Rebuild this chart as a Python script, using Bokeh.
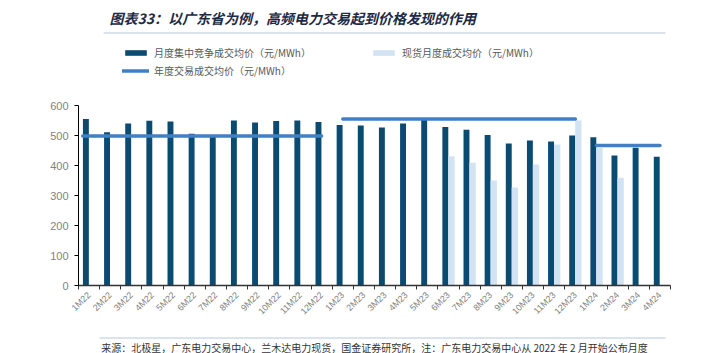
import math
from bokeh.plotting import figure
from bokeh.layouts import column
from bokeh.models import (Legend, LegendItem, FixedTicker, Range1d, ColumnDataSource)
from bokeh.core.properties import value
from bokeh.embed import file_html
from bokeh.resources import INLINE

# ---------------- data ----------------
months = ["1M22", "2M22", "3M22", "4M22", "5M22", "6M22", "7M22", "8M22", "9M22",
          "10M22", "11M22", "12M22", "1M23", "2M23", "3M23", "4M23", "5M23", "6M23",
          "7M23", "8M23", "9M23", "10M23", "11M23", "12M23", "1M24", "2M24", "3M24", "4M24"]
monthly_price = [555, 511, 540, 549, 547, 506, 500, 550, 543, 548, 550, 545,
                 535, 533, 527, 540, 553, 528, 519, 502, 473, 483, 480, 500,
                 494, 433, 459, 429]
spot_price = [None] * 17 + [431, 409, 350, 327, 403, 470, 550, 458, 359, None, None]
annual_years = ["2022", "2023", "2024"]
annual_price = [498, 555, 467]
annual_first = ["1M22", "1M23", "1M24"]
annual_last = ["12M22", "12M23", "4M24"]
y_ticks = [0, 100, 200, 300, 400, 500, 600]

title_text = "图表33：以广东省为例，高频电力交易起到价格发现的作用"
lab_month = "月度集中竞争成交均价（元/MWh）"
lab_spot = "现货月度成交均价（元/MWh）"
lab_year = "年度交易成交均价（元/MWh）"
source_text = "来源：北极星，广东电力交易中心，兰木达电力现货，国金证券研究所，注：广东电力交易中心从 2022 年 2 月开始公布月度"

# ---------------- styles ----------------
DARK = "#0b4a71"
LIGHT = "#d2e3f3"
LINE = "#4180c2"
GRAY = "#7f7f7f"
RULE = "#b7c8da"
CJK = "Noto Sans CJK SC"
W = 706


def blank_fig(h):
    f = figure(width=W, height=h, x_range=Range1d(0, W), y_range=Range1d(h, 0),
               output_backend="svg", toolbar_location=None,
               x_axis_location=None, y_axis_location=None,
               min_border=0, min_border_left=0, min_border_right=0,
               min_border_top=0, min_border_bottom=0)
    f.xgrid.visible = False
    f.ygrid.visible = False
    f.outline_line_color = None
    return f


# ---------------- title strip ----------------
TH = 36
t = blank_fig(TH)
t.text(x=[37], y=[17], text=[title_text], text_font=value(CJK),
       text_font_style="bold italic", text_font_size="14px",
       text_color="#1c2a45", text_baseline="middle", text_align="left")
t.segment(x0=[30], y0=[32.5], x1=[700], y1=[32.5], line_color=RULE, line_width=1)

# ---------------- main chart ----------------
MH = 298
FRAME_BOTTOM = 249          # inside main figure
frame_h = FRAME_BOTTOM - 0
y_top = 600 * frame_h / 180.0

idx = list(range(len(months)))
dark_src = ColumnDataSource(dict(x=[i - 0.15 for i in idx], top=monthly_price))
sp_x = [i + 0.14 for i, v in zip(idx, spot_price) if v is not None]
sp_v = [v for v in spot_price if v is not None]
spot_src = ColumnDataSource(dict(x=sp_x, top=sp_v))

xs, ys = [], []
for k, (a, b, v) in enumerate(zip(annual_first, annual_last, annual_price)):
    x0 = months.index(a) - (0.3 if k == 0 else 0.0)
    x1 = months.index(b)
    xs.append([x0, x1])
    ys.append([v, v])
line_src = ColumnDataSource(dict(xs=xs, ys=ys))

p = figure(width=W, height=MH, x_range=Range1d(-0.5, len(months) - 0.5),
           y_range=Range1d(0, y_top), output_backend="svg", toolbar_location=None,
           min_border_left=78, min_border_right=36, min_border_top=0,
           min_border_bottom=MH - FRAME_BOTTOM)
p.xgrid.visible = False
p.ygrid.visible = False
p.outline_line_color = None

r_dark = p.vbar(x="x", top="top", width=0.28, source=dark_src,
                fill_color=DARK, line_color=None)
r_spot = p.vbar(x="x", top="top", width=0.3, source=spot_src,
                fill_color=LIGHT, line_color=None)
r_line = p.multi_line(xs="xs", ys="ys", source=line_src, line_color=LINE,
                      line_width=3.5, line_cap="round")

ya = p.yaxis[0]
ya.ticker = FixedTicker(ticks=y_ticks)
ya.bounds = (0, 600)
ya.axis_line_color = "black"
ya.major_tick_out = 4
ya.major_tick_in = 0
ya.major_tick_line_color = "black"
ya.minor_tick_line_color = None
ya.major_label_text_color = GRAY
ya.major_label_text_font = "Liberation Sans"
ya.major_label_text_font_size = "11px"
ya.major_label_standoff = 6

xa = p.xaxis[0]
xa.ticker = FixedTicker(ticks=idx, minor_ticks=[i - 0.5 for i in range(len(months) + 1)])
xa.major_label_overrides = {i: m for i, m in zip(idx, months)}
xa.major_tick_in = 0
xa.major_tick_out = 0
xa.minor_tick_in = 0
xa.minor_tick_out = 4
xa.minor_tick_line_color = "#333333"
xa.axis_line_color = "#333333"
xa.axis_line_width = 1.5
xa.major_label_orientation = math.pi / 4
xa.major_label_text_color = GRAY
xa.major_label_text_font = "Liberation Sans"
xa.major_label_text_font_size = "9px"
xa.major_label_standoff = 4


def mk_legend(label, rend, loc):
    lg = Legend(items=[LegendItem(label=label, renderers=[rend])], location=loc,
                orientation="horizontal", glyph_width=27, glyph_height=7,
                label_standoff=5, label_height=12, padding=0, margin=0,
                spacing=0, background_fill_alpha=0, border_line_color=None,
                label_text_font=CJK, label_text_font_size="10px",
                label_text_color="#595959")
    p.add_layout(lg)
    return lg


mk_legend(lab_month, r_dark, (44, 225))
mk_legend(lab_spot, r_spot, (292, 225))
mk_legend(lab_year, r_line, (44, 207))

# ---------------- footer strip ----------------
FH = 353 - TH - MH
f = blank_fig(FH)
f.segment(x0=[25], y0=[3.5], x1=[700], y1=[3.5], line_color=RULE, line_width=1)
f.text(x=[27], y=[5], text=[source_text], text_font=value(CJK),
       text_font_size="10px", text_color="#333333", text_baseline="top",
       text_align="left")

layout = column(t, p, f, spacing=0)
open("out.html", "w").write(file_html(layout, INLINE))
